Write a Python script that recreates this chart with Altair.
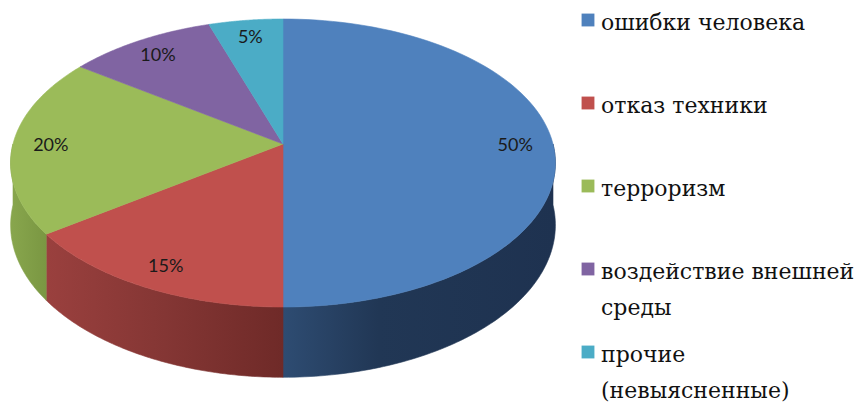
import altair as alt
import pandas as pd

# ---- data ----
categories = [
    "ошибки человека",
    "отказ техники",
    "терроризм",
    "воздействие внешней\nсреды",
    "прочие\n(невыясненные)",
]
values = [50, 15, 20, 10, 5]

# ---- styles ----
top_colors = ["#4F81BD", "#C0504D", "#9BBB59", "#8064A2", "#4BACC6"]
wall_stops = [
    [("#2E4C72", 0.0), ("#213755", 0.35), ("#1E3250", 1.0)],
    [("#9A403E", 0.0), ("#843634", 0.5), ("#6F2A28", 1.0)],
    [("#88A64D", 0.0), ("#7A9742", 1.0)],
    [("#6A5390", 0.0), ("#5A4780", 1.0)],
    [("#3E98AF", 0.0), ("#337F93", 1.0)],
]

W, H = 850, 398
CX, CY = 275, 136          # centre of the pie top (plot coords)
A, B = 270, 141.5          # radii of the top face
KP = 0.132                 # perspective factor
D = 61                     # depth of the pie wall
N = 90                     # points per arc
R_LAB = 0.86               # label radius fraction

xs = alt.Scale(domain=[0, W], range=[0, W])
ys = alt.Scale(domain=[0, H], range=[0, H])
fill_scale = alt.Scale(domain=categories, range=top_colors)

df = pd.DataFrame({"cat": categories, "value": values, "idx": list(range(len(categories)))})

base = (
    alt.Chart(df)
    .transform_joinaggregate(total="sum(value)")
    .transform_window(cum="sum(value)", sort=[alt.SortField("idx")], frame=[None, 0])
    .transform_calculate(
        a0="2*PI*(datum.cum - datum.value)/datum.total",
        a1="2*PI*datum.cum/datum.total",
    )
)

def sx(ang, r="1"):
    return f"{CX} + {A} * {r} * sin({ang}) / (1 + {KP} * {r} * cos({ang}))"

def sy(ang, r="1"):
    return f"{CY} - {B} * {r} * cos({ang}) / (1 + {KP} * {r} * cos({ang}))"

# ---- walls (front half of the cylinder) ----
walls = []
for i, stops in enumerate(wall_stops):
    grad = alt.Gradient(
        gradient="linear",
        stops=[alt.GradientStop(color=c, offset=o) for c, o in stops],
        x1=0, x2=1, y1=0, y2=0,
    )
    w = (
        base.transform_filter(f"datum.idx == {i}")
        .transform_calculate(s="max(datum.a0, PI/2)", e="min(datum.a1, 3*PI/2)")
        .transform_filter("datum.s < datum.e")
        .transform_calculate(pt=f"sequence(0, {2 * N + 2})")
        .transform_flatten(["pt"])
        .transform_calculate(
            ang=f"datum.pt <= {N} ? datum.s + (datum.e - datum.s) * datum.pt / {N} : datum.e - (datum.e - datum.s) * (datum.pt - {N + 1}) / {N}",
            px=sx("datum.ang"),
            py=f"{sy('datum.ang')} + (datum.pt > {N} ? {D} / (1 + {KP} * cos(datum.ang)) : 0)",
        )
        .mark_line(interpolate="linear-closed", fill=grad, stroke=grad, strokeWidth=0.6)
        .encode(
            x=alt.X("px:Q", scale=xs, axis=None),
            y=alt.Y("py:Q", scale=ys, axis=None),
            order=alt.Order("pt:Q"),
        )
    )
    walls.append(w)

# ---- top face ----
top = (
    base.transform_calculate(pt=f"sequence(0, {N + 2})")
    .transform_flatten(["pt"])
    .transform_calculate(
        ang=f"datum.a0 + (datum.a1 - datum.a0) * min(datum.pt, {N}) / {N}",
        px=f"datum.pt > {N} ? {CX} : {sx('datum.ang')}",
        py=f"datum.pt > {N} ? {CY} : {sy('datum.ang')}",
    )
    .mark_line(interpolate="linear-closed", strokeWidth=0.6)
    .encode(
        x=alt.X("px:Q", scale=xs, axis=None),
        y=alt.Y("py:Q", scale=ys, axis=None),
        order=alt.Order("pt:Q"),
        detail="cat:N",
        fill=alt.Fill("cat:N", scale=fill_scale, legend=None),
        stroke=alt.Stroke("cat:N", scale=fill_scale, legend=None),
    )
)

# ---- percentage labels ----
labels = (
    base.transform_calculate(
        mid="(datum.a0 + datum.a1) / 2",
        lx=sx("datum.mid", str(R_LAB)),
        ly=sy("datum.mid", str(R_LAB)),
        txt="format(datum.value / datum.total, '.0%')",
    )
    .mark_text(font="Lato", fontSize=18, color="#1A1A1A", dy=2)
    .encode(
        x=alt.X("lx:Q", scale=xs, axis=None),
        y=alt.Y("ly:Q", scale=ys, axis=None),
        text="txt:N",
    )
)

# ---- legend (drawn manually) ----
LEG_X, LEG_Y0, LEG_STEP = 580, 12, 83
leg_base = alt.Chart(df).transform_calculate(
    ly=f"{LEG_Y0} + datum.idx * {LEG_STEP}",
    lx=f"{LEG_X}",
    tx=f"{LEG_X + 13}",
    ty=f"{LEG_Y0 + 10} + datum.idx * {LEG_STEP}",
)
leg_sym = leg_base.mark_square(size=165, opacity=1, filled=True).encode(
    x=alt.X("lx:Q", scale=xs, axis=None),
    y=alt.Y("ly:Q", scale=ys, axis=None),
    fill=alt.Fill("cat:N", scale=fill_scale, legend=None),
)
leg_txt = leg_base.mark_text(
    font="DejaVu Serif", fontSize=22, color="#111111", align="left",
    baseline="alphabetic", lineBreak="\n", lineHeight=36,
).encode(
    x=alt.X("tx:Q", scale=xs, axis=None),
    y=alt.Y("ty:Q", scale=ys, axis=None),
    text="cat:N",
)

chart = (
    alt.layer(*walls, top, labels, leg_sym, leg_txt)
    .properties(width=W, height=H, padding=0, autosize="none", background="white")
    .configure_view(stroke=None)
)

chart.save("out.html", embed_options={"renderer": "svg", "actions": False})
